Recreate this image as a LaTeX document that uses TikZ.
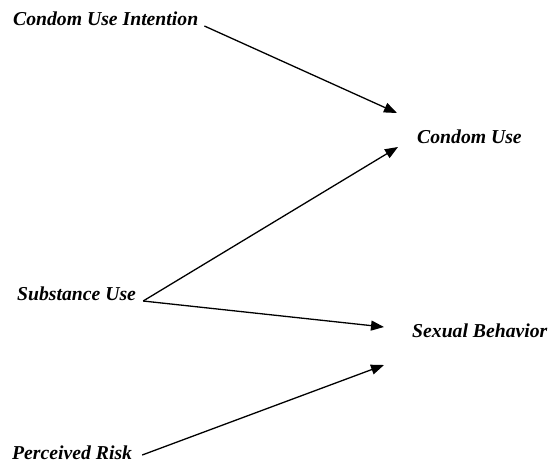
\documentclass[tikz,border=0pt]{standalone}
\usepackage{fontspec}
\setmainfont{Liberation Serif}
\usetikzlibrary{arrows.meta}
\begin{document}
\begin{tikzpicture}[x=1pt,y=-1pt,
  lbl/.style={inner sep=0pt, anchor=base west, font=\fontsize{19.7}{22}\selectfont\bfseries\itshape},
  conn/.style={line width=1.3pt, -{Triangle[length=13pt,width=10pt]}},
  plain/.style={line width=1.3pt}]
\useasboundingbox (0,0) rectangle (553,464);
\node[lbl] (cui) at (13,25) {Condom Use Intention};
\node[lbl] (cu) at (417,143) {Condom Use};
\node[lbl] (su) at (17,300) {Substance Use};
\node[lbl] (sb) at (412,337) {Sexual Behavior};
\node[lbl] (pr) at (12,459) {Perceived Risk};
\coordinate (t1) at (397,113);
\coordinate (t2) at (398,147);
\coordinate (t3) at (384,327);
\coordinate (t4) at (384,365);
\draw[conn] ([shift={(6,1)}]cui.base east) -- (t1);
\draw[conn] ([shift={(7,1)}]su.base east) -- (t2);
\draw[conn] ([shift={(7,1)}]su.base east) -- (t3);
\draw[conn] ([shift={(10,-4)}]pr.base east) -- (t4);
\end{tikzpicture}
\end{document}
